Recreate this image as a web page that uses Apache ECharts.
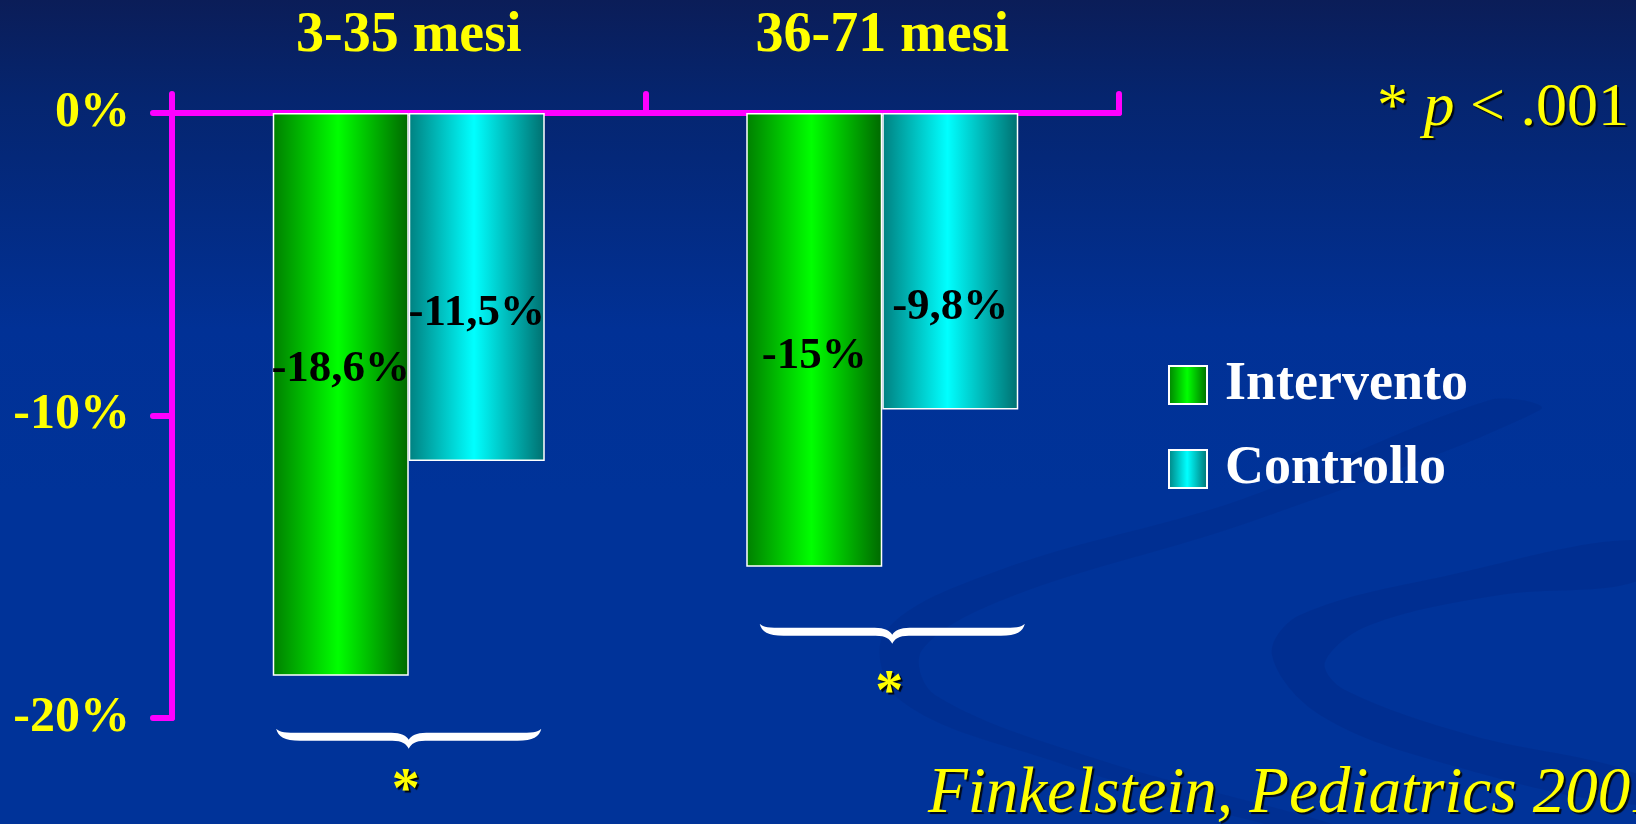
<!DOCTYPE html>
<html>
<head>
<meta charset="utf-8">
<script src="https://cdn.jsdelivr.net/npm/echarts@6/dist/echarts.min.js"></script>
<style>
  html, body { margin: 0; padding: 0; background: #003399; }
  #chart { width: 1636px; height: 824px; }
</style>
</head>
<body>
<div id="chart"></div>
<script>
// Age groups and percentage change per group
const categories = ['3-35 mesi', '36-71 mesi'];
const intervento = [-18.6, -15];
const controllo = [-11.5, -9.8];
const yTicks = { min: -20, max: 0, step: 10 };
const seriesNames = ['Intervento', 'Controllo'];
const citation = 'Finkelstein, Pediatrics 2001';

// vertical nudges (px) for the value labels inside the bars
const labelNudge = { Intervento: [-25, 16], Controllo: [26, 46] };
// per-group placement of the brace and asterisk below the bars: [dx, braceDy, starDy]
const braceShift = [[0, 53, 117], [10, 57, 128]];

const SERIF = '"Liberation Serif", "Times New Roman", serif';
const MAGENTA = '#ff00ff';
const YELLOW = '#ffff00';

const fmt = v => String(v).replace('.', ',') + '%';

function barGradient(edgeL, mid, edgeR) {
  return new echarts.graphic.LinearGradient(0, 0, 1, 0, [
    { offset: 0, color: edgeL },
    { offset: 0.48, color: mid },
    { offset: 1, color: edgeR }
  ]);
}

function barSeries(name, values, gradient) {
  return {
    name: name,
    type: 'bar',
    barWidth: 136,
    barGap: '0%',
    z: 3,
    itemStyle: { color: gradient, borderColor: '#ffffff', borderWidth: 1.5 },
    label: {
      show: true,
      position: 'inside',
      color: '#000000',
      fontFamily: SERIF,
      fontWeight: 'bold',
      fontSize: 45,
      formatter: p => fmt(p.value)
    },
    data: values.map((v, i) => ({ value: v, label: { offset: [0, labelNudge[name][i]] } }))
  };
}

// Brace under each group, anchored to the deeper bar of the group
const bracePath =
  'M0 0 C2 8 8 12 24 12 L116 12 C126 12 130 15 132.5 20 C135 15 139 12 149 12 ' +
  'L241 12 C257 12 263 8 265 0 C261 4 256 4 241 4 L150 4 C140 4 135 7 132.5 11 ' +
  'C130 7 125 4 115 4 L24 4 C9 4 4 4 0 0 Z';

const braceData = categories.map((c, i) => [i, Math.min(intervento[i], controllo[i])]);

const chart = echarts.init(document.getElementById('chart'));

const option = {
  backgroundColor: '#003399',
  animation: false,
  grid: { left: 172, top: 113, right: 517, bottom: 106, containLabel: false },
  legend: {
    data: seriesNames,
    orient: 'vertical',
    left: 1163,
    top: 353,
    icon: 'rect',
    itemWidth: 38,
    itemHeight: 38,
    itemGap: 30,
    itemStyle: { borderColor: '#ffffff', borderWidth: 2 },
    textStyle: {
      color: '#ffffff',
      fontFamily: SERIF,
      fontWeight: 'bold',
      fontSize: 54,
      padding: [0, 0, 0, 13]
    }
  },
  xAxis: {
    type: 'category',
    data: categories,
    position: 'top',
    boundaryGap: true,
    axisLine: { show: true, onZero: false, lineStyle: { color: MAGENTA, width: 6, cap: 'round' } },
    axisTick: { show: true, length: 19, lineStyle: { color: MAGENTA, width: 6, cap: 'round' } },
    axisLabel: {
      interval: 0,
      color: YELLOW,
      fontFamily: SERIF,
      fontWeight: 'bold',
      fontSize: 56,
      margin: 48
    },
    splitLine: { show: false }
  },
  yAxis: {
    type: 'value',
    min: yTicks.min,
    max: yTicks.max,
    interval: yTicks.step,
    axisLine: { show: true, lineStyle: { color: MAGENTA, width: 6, cap: 'round' } },
    axisTick: { show: true, length: 19, lineStyle: { color: MAGENTA, width: 6, cap: 'round' } },
    axisLabel: {
      formatter: '{value}%',
      color: YELLOW,
      fontFamily: SERIF,
      fontWeight: 'bold',
      fontSize: 50,
      margin: 42
    },
    splitLine: { show: false }
  },
  series: [
    barSeries(seriesNames[0], intervento, barGradient('#007f00', '#00ff00', '#006800')),
    barSeries(seriesNames[1], controllo, barGradient('#008080', '#00ffff', '#006f6f')),
    {
      type: 'custom',
      name: 'brace',
      silent: true,
      z: 5,
      data: braceData,
      renderItem: function (params, api) {
        const i = params.dataIndex;
        const p = api.coord([api.value(0), api.value(1)]);
        const band = api.size([1, 0])[0];
        const w = band * 0.56;
        const cx = p[0] + braceShift[i][0];
        return {
          type: 'group',
          children: [
            {
              type: 'path',
              shape: { pathData: bracePath, x: cx - w / 2, y: p[1] + braceShift[i][1], width: w, height: 20, layout: 'cover' },
              style: { fill: '#ffffff' }
            },
            {
              type: 'text',
              x: cx - 3,
              y: p[1] + braceShift[i][2],
              style: {
                text: '*',
                fill: YELLOW,
                font: 'bold 56px ' + SERIF,
                align: 'center',
                verticalAlign: 'middle',
                textShadowColor: 'rgba(0,0,0,0.9)',
                textShadowOffsetX: 2,
                textShadowOffsetY: 2,
                textShadowBlur: 1
              }
            }
          ]
        };
      }
    }
  ],
  graphic: [
    {
      type: 'rect',
      z: -20,
      silent: true,
      shape: { x: 0, y: 0, width: 1636, height: 824 },
      style: {
        fill: new echarts.graphic.LinearGradient(0, 0, 0, 1, [
          { offset: 0, color: '#0b1d58' },
          { offset: 0.12, color: '#05256f' },
          { offset: 0.4, color: '#013196' },
          { offset: 0.6, color: '#003399' },
          { offset: 1, color: '#003399' }
        ])
      }
    },
    {
      type: 'polygon',
      z: -10,
      silent: true,
      shape: {
        smooth: 0.35,
        points: [[1490, 400], [1240, 500], [1000, 570], [885, 632], [900, 700], [1050, 760], [1290, 830],
                 [1350, 830], [1100, 760], [935, 695], [922, 650], [1010, 597], [1250, 522], [1540, 410]]
      },
      style: { fill: 'rgba(0,25,105,0.14)' }
    },
    {
      type: 'polygon',
      z: -10,
      silent: true,
      shape: {
        smooth: 0.35,
        points: [[1640, 540], [1450, 575], [1300, 615], [1272, 655], [1320, 715], [1450, 765], [1640, 805],
                 [1640, 775], [1470, 735], [1345, 690], [1325, 662], [1370, 625], [1500, 595], [1640, 580]]
      },
      style: { fill: 'rgba(0,25,105,0.16)' }
    },
    {
      type: 'text',
      z: 10,
      x: 1377,
      y: 109,
      style: {
        text: '{a|*} {i|p} {a|< .001}',
        rich: {
          a: { fontFamily: SERIF, fontSize: 62, fill: YELLOW },
          i: { fontFamily: SERIF, fontSize: 62, fontStyle: 'italic', fill: YELLOW }
        },
        fontFamily: SERIF,
        fontSize: 62,
        fill: YELLOW,
        verticalAlign: 'middle',
        textShadowColor: 'rgba(0,0,0,0.85)',
        textShadowOffsetX: 2,
        textShadowOffsetY: 2,
        textShadowBlur: 1
      }
    },
    {
      type: 'text',
      z: 10,
      x: 928,
      y: 795,
      style: {
        text: citation,
        fill: YELLOW,
        font: 'italic 65px ' + SERIF,
        verticalAlign: 'middle',
        textShadowColor: 'rgba(0,0,0,0.85)',
        textShadowOffsetX: 2,
        textShadowOffsetY: 2,
        textShadowBlur: 1
      }
    }
  ]
};

chart.setOption(option);
</script>
</body>
</html>
